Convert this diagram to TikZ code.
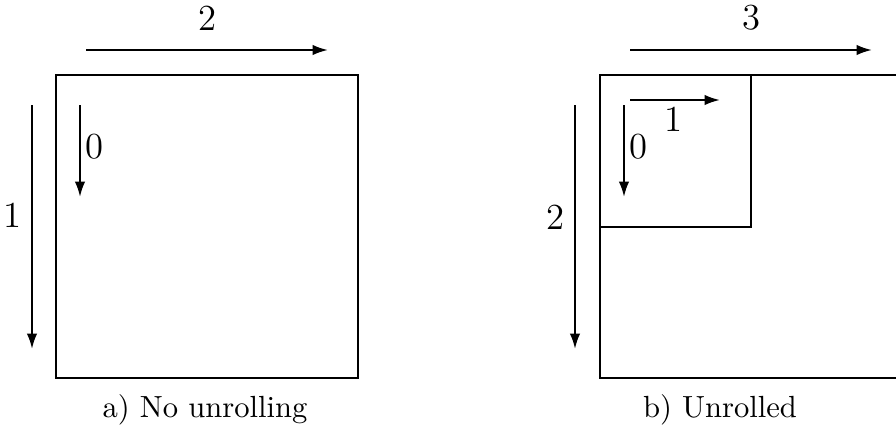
\documentclass[tikz,border=0pt]{standalone}
\usepackage{tikz}
\usetikzlibrary{arrows,arrows.meta,positioning,calc}

\begin{document}
\begin{tikzpicture}[x=0.3268pt,y=-0.3268pt] % one unit is one pixel of the reference
\tikzset{frame/.style={draw, line width=0.8pt}} % outline of the iteration space
\tikzset{loopdir/.style={-{Latex[length=5pt,width=3.4pt]}, line width=0.7pt}} % direction of a loop
\tikzset{idx/.style={inner sep=1pt, font=\large}} % loop index labels
\useasboundingbox (0,0) rectangle (896,432);
\clip (0,0) rectangle (896,432);
% a) no unrolling
\coordinate (la1) at (86,50);  \coordinate (lb1) at (328,50);
\coordinate (la2) at (32,105); \coordinate (lb2) at (32,349);
\coordinate (la3) at (80,105); \coordinate (lb3) at (80,197);
\draw[frame] (56,75) rectangle (358,378);
\draw[loopdir] (la1) -- node[idx, above=5pt] {2} (lb1);
\draw[loopdir] (la2) -- node[idx, left=2pt, pos=0.45] {1} (lb2);
\draw[loopdir] (la3) -- node[idx, right=0.5pt, pos=0.45] {0} (lb3);
\node (capa) at (205,410) {a) No unrolling};
% b) unrolled
\coordinate (ra1) at (630,50);  \coordinate (rb1) at (872,50);
\coordinate (ra2) at (575,105); \coordinate (rb2) at (575,349);
\coordinate (ra3) at (624,105); \coordinate (rb3) at (624,197);
\coordinate (ra4) at (630,100); \coordinate (rb4) at (720,100);
\draw[frame] (600,75) rectangle (902,378);
\draw[frame] (600,75) rectangle (751,227);
\draw[loopdir] (ra1) -- node[idx, above=5pt] {3} (rb1);
\draw[loopdir] (ra2) -- node[idx, left=2pt, pos=0.46] {2} (rb2);
\draw[loopdir] (ra3) -- node[idx, right=0.5pt, pos=0.45] {0} (rb3);
\draw[loopdir] (ra4) -- node[idx, below=1pt, pos=0.48] {1} (rb4);
\node (capb) at (720,410) {b) Unrolled};
\end{tikzpicture}
\end{document}
